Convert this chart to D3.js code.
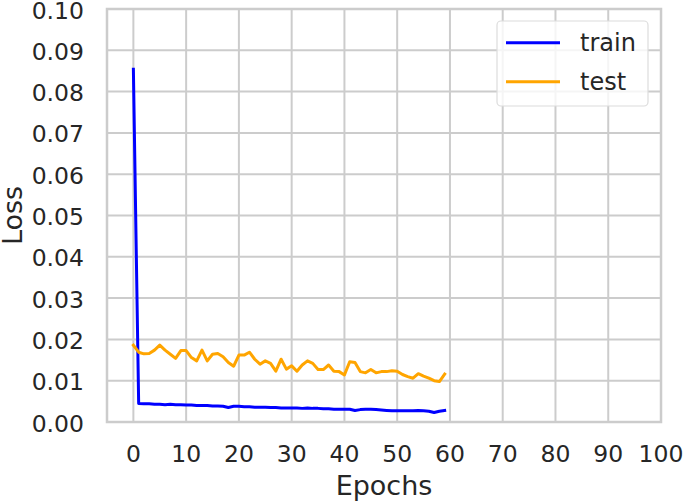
<html>
<style>
    body { margin:0; background:#fff }
    text { font-family:"DejaVu Sans"; fill:#262626 }
</style>
<script src="https://d3js.org/d3.v7.min.js" charset="utf-8"></script>
<body>
<div class="chart"></div>
<script>
    // data
    var epochs = d3.range(0, 60);
    var train = [0.0854, 0.0045, 0.0044, 0.0044, 0.0043, 0.0043, 0.0042, 0.0043, 0.0042, 0.0042,
                 0.0041, 0.0041, 0.0040, 0.0040, 0.0040, 0.0039, 0.0039, 0.0038, 0.0035, 0.0038,
                 0.0038, 0.0037, 0.0037, 0.0036, 0.0036, 0.0036, 0.0035, 0.0035, 0.0034, 0.0034,
                 0.0034, 0.0034, 0.0033, 0.0034, 0.0033, 0.0033, 0.0032, 0.0032, 0.0031, 0.0031,
                 0.0031, 0.0031, 0.0028, 0.0030, 0.0031, 0.0031, 0.0030, 0.0029, 0.0028, 0.0027,
                 0.0027, 0.0027, 0.0027, 0.0027, 0.0028, 0.0027, 0.0026, 0.0023, 0.0026, 0.0028];
    var test = [0.0186, 0.0169, 0.0165, 0.0166, 0.0174, 0.0186, 0.0174, 0.0164, 0.0154, 0.0173,
                0.0173, 0.0156, 0.0148, 0.0174, 0.0148, 0.0164, 0.0166, 0.0158, 0.0144, 0.0135,
                0.0162, 0.0162, 0.0169, 0.0152, 0.0140, 0.0148, 0.0142, 0.0123, 0.0152, 0.0128,
                0.0136, 0.0123, 0.0138, 0.0148, 0.0142, 0.0127, 0.0127, 0.0138, 0.0123, 0.0122,
                0.0114, 0.0146, 0.0144, 0.0122, 0.0119, 0.0127, 0.0119, 0.0122, 0.0122, 0.0124,
                0.0123, 0.0115, 0.0110, 0.0106, 0.0117, 0.0111, 0.0106, 0.0100, 0.0098, 0.0116];
    var xTicks = d3.range(0, 101, 10);
    var yTicks = d3.range(0, 11).map(function(i){ return i / 100; });
    var series = [ { name:"train", values:train, color:"blue" },
                   { name:"test",  values:test,  color:"orange" } ];

    //************************************************************
    // Configuration
    //************************************************************
    var W = 685, H = 501;
    var box = { left:107, right:661, top:9, bottom:422 };
    var grid = "#cccccc";

    var svg = d3.select(".chart").append("svg")
        .attr("width", W)
        .attr("height", H);

    var x = d3.scaleLinear().domain([-5, 100]).range([box.left, box.right]);
    var y = d3.scaleLinear().domain([0, 0.1]).range([box.bottom, box.top]);

    //grid lines
    svg.append("g").selectAll("line").data(xTicks).enter().append("line")
        .attr("x1", function(d){ return x(d); }).attr("x2", function(d){ return x(d); })
        .attr("y1", box.top).attr("y2", box.bottom)
        .attr("stroke", grid).attr("stroke-width", 2);
    svg.append("g").selectAll("line").data(yTicks).enter().append("line")
        .attr("y1", function(d){ return y(d); }).attr("y2", function(d){ return y(d); })
        .attr("x1", box.left).attr("x2", box.right)
        .attr("stroke", grid).attr("stroke-width", 2);

    //frame
    svg.append("rect")
        .attr("x", box.left).attr("y", box.top)
        .attr("width", box.right - box.left).attr("height", box.bottom - box.top)
        .attr("fill", "none").attr("stroke", grid).attr("stroke-width", 2.5);

    //tick labels
    svg.append("g").selectAll("text").data(xTicks).enter().append("text")
        .attr("x", function(d){ return x(d); })
        .attr("y", 462)
        .attr("text-anchor", "middle")
        .style("font-size", "23.5px")
        .text(function(d){ return d; });
    svg.append("g").selectAll("text").data(yTicks).enter().append("text")
        .attr("x", 84)
        .attr("y", function(d){ return y(d) + 9.5; })
        .attr("text-anchor", "end")
        .style("font-size", "23.5px")
        .text(function(d){ return d3.format(".2f")(d); });

    //axis titles
    svg.append("text")
        .attr("x", (box.left + box.right) / 2).attr("y", 495)
        .attr("text-anchor", "middle")
        .style("font-size", "27px")
        .text("Epochs");
    svg.append("text")
        .attr("transform", "translate(22," + (box.top + box.bottom) / 2 + ") rotate(-90)")
        .attr("text-anchor", "middle")
        .style("font-size", "27px")
        .text("Loss");

    //lines
    var line = d3.line()
        .x(function(d, i){ return x(epochs[i]); })
        .y(function(d){ return y(d); });
    svg.append("g").selectAll("path").data(series).enter().append("path")
        .attr("d", function(d){ return line(d.values); })
        .attr("fill", "none")
        .attr("stroke", function(d){ return d.color; })
        .attr("stroke-width", 3)
        .attr("stroke-linejoin", "round")
        .attr("stroke-linecap", "square");

    //legend
    var lg = svg.append("g");
    lg.append("rect")
        .attr("x", 497).attr("y", 21).attr("width", 151).attr("height", 85)
        .attr("rx", 4)
        .attr("fill", "white").attr("fill-opacity", 0.8)
        .attr("stroke", "#dcdcdc").attr("stroke-width", 1.2);
    var item = lg.selectAll("g.item").data(series).enter().append("g")
        .attr("class", "item")
        .attr("transform", function(d, i){ return "translate(0," + (42.7 + i * 39) + ")"; });
    item.append("line")
        .attr("x1", 506).attr("x2", 560)
        .attr("stroke", function(d){ return d.color; })
        .attr("stroke-width", 3);
    item.append("text")
        .attr("x", 580).attr("y", 8.5)
        .style("font-size", "24px")
        .text(function(d){ return d.name; });
</script>
</body>
</html>
